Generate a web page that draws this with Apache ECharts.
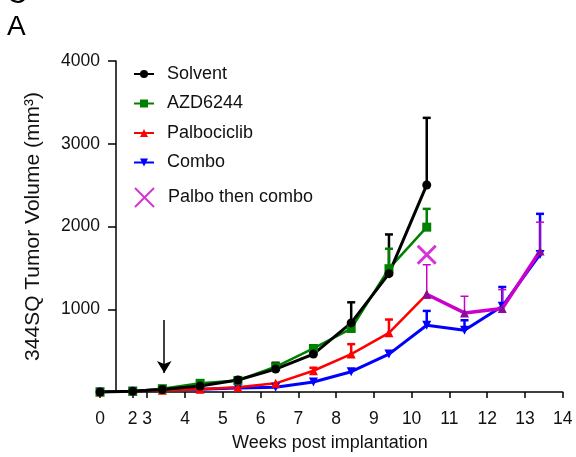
<!DOCTYPE html>
<html>
<head>
<meta charset="utf-8">
<script src="https://cdn.jsdelivr.net/npm/echarts@6/dist/echarts.min.js"></script>
<style>
  html, body { margin: 0; padding: 0; background: #fff; }
  #chart { width: 576px; height: 457px; }
</style>
</head>
<body>
<div id="chart"></div>
<script>
// weeks post implantation (x) for each measurement
const weeks = [0, 2, 3.4, 4.4, 5.4, 6.4, 7.4, 8.4, 9.4, 10.4, 11.4, 12.4, 13.4];
const tickWeeks = [0, 2, 3, 4, 5, 6, 7, 8, 9, 10, 11, 12, 13, 14];

// tumor volume (mm3), mean
const solvent = [0, 10, 30, 72, 145, 277, 458, 835, 1430, 2502];
const azd6244 = [0, 10, 40, 105, 140, 305, 526, 767, 1490, 1992];
const palbociclib = [0, 10, 20, 32, 57, 105, 257, 458, 715, 1181];
const combo = [0, 10, 30, 32, 48, 57, 120, 245, 458, 807, 747, 1036, 1663];
// palbo then combo: starts where palbociclib stops
const palboThenComboWeeks = [10.4, 11.4, 12.4, 13.4];
const palboThenCombo = [1181, 956, 1008, 1703];
const palboThenComboMark = [[10.4, 1659]];

// upper error (mm3)
const solventErr = [0, 0, 0, 0, 0, 76, 0, 249, 474, 811];
const azdErr = [0, 0, 0, 0, 0, 0, 0, 0, 241, 221];
const palboErr = [0, 0, 0, 0, 0, 0, 36, 120, 161, 0];
const comboErr = [0, 0, 0, 0, 0, 0, 0, 0, 0, 173, 120, 233, 490];
const palboThenComboErr = [357, 201, 229, 349];

// treatment start (arrow), weeks / mm3
const arrowWeek = 3.45;
const arrowFrom = 870;
const arrowTo = 230;

// the x axis is broken between 0 and 3 weeks
const knotW = [0, 2, 3, 14];
const knotP = [0, 0.866, 1.25, 12.25];
function toPos(w) {
  for (let i = 1; i < knotW.length; i++) {
    if (w <= knotW[i]) {
      let t = (w - knotW[i - 1]) / (knotW[i] - knotW[i - 1]);
      return knotP[i - 1] + t * (knotP[i] - knotP[i - 1]);
    }
  }
  return knotP[knotP.length - 1];
}
function fromPos(p) {
  for (let i = 1; i < knotP.length; i++) {
    if (p <= knotP[i] + 1e-6) {
      let t = (p - knotP[i - 1]) / (knotP[i] - knotP[i - 1]);
      return knotW[i - 1] + t * (knotW[i] - knotW[i - 1]);
    }
  }
  return knotW[knotW.length - 1];
}

function pts(xs, ys) {
  return ys.map((v, i) => [toPos(xs[i]), v]);
}
function errPts(xs, ys, errs) {
  let out = [];
  ys.forEach((v, i) => {
    if (errs[i] > 0) out.push([toPos(xs[i]), v, v + errs[i]]);
  });
  return out;
}

// upper error bars only
function errSeries(data, color, width, capW) {
  return {
    type: 'custom',
    silent: true,
    z: 3,
    encode: { x: 0, y: 1 },
    data: data,
    renderItem: function (params, api) {
      let p0 = api.coord([api.value(0), api.value(1)]);
      let p1 = api.coord([api.value(0), api.value(2)]);
      return {
        type: 'group',
        children: [
          { type: 'line', shape: { x1: p0[0], y1: p0[1], x2: p1[0], y2: p1[1] },
            style: { stroke: color, lineWidth: width } },
          { type: 'line', shape: { x1: p1[0] - capW / 2, y1: p1[1], x2: p1[0] + capW / 2, y2: p1[1] },
            style: { stroke: color, lineWidth: width } }
        ]
      };
    }
  };
}

function lineSeries(name, data, color, symbol, width, extra) {
  return Object.assign({
    name: name,
    type: 'line',
    data: data,
    symbol: symbol,
    symbolSize: 9,
    z: 4,
    lineStyle: { color: color, width: width },
    itemStyle: { color: color },
    emphasis: { disabled: true }
  }, extra || {});
}

const fontFamily = '"Liberation Sans", Arial, sans-serif';
const xCross = 'path://M0,0L10,10M10,0L0,10';

let myChart = echarts.init(document.getElementById('chart'));
let option = {
  animation: false,
  textStyle: { fontFamily: fontFamily },
  graphic: [
    { type: 'text', left: 7, top: -19, style: { text: 'C', fontSize: 28, fontFamily: fontFamily, fill: '#000' } },
    { type: 'text', left: 7, top: 13, style: { text: 'A', fontSize: 28, fontFamily: fontFamily, fill: '#000' } }
  ],
  grid: { left: 97, right: 13.3, top: 61, bottom: 65, containLabel: false },
  legend: [{
    orient: 'vertical',
    left: 128,
    top: 60,
    itemGap: 11.5,
    itemWidth: 20,
    itemHeight: 10,
    data: ['Solvent', 'AZD6244', 'Palbociclib', 'Combo'],
    textStyle: { fontSize: 18, color: '#111', fontFamily: fontFamily, padding: [0, 0, 0, 8] }
  }, {
    left: 129,
    top: 182,
    itemWidth: 19,
    itemHeight: 19,
    data: ['Palbo then combo'],
    textStyle: { fontSize: 18, color: '#111', fontFamily: fontFamily, padding: [0, 0, 0, 9] }
  }],
  xAxis: {
    type: 'value',
    min: -0.08,
    max: toPos(14),
    name: 'Weeks post implantation',
    nameLocation: 'middle',
    nameGap: 42,
    nameTextStyle: { fontSize: 18, color: '#111' },
    axisLine: { onZero: false, lineStyle: { color: '#000', width: 1.5 } },
    axisTick: { length: 6, lineStyle: { color: '#000', width: 1.5 }, customValues: tickWeeks.map(toPos) },
    axisLabel: {
      fontSize: 17.5, color: '#111', margin: 18,
      customValues: tickWeeks.map(toPos),
      formatter: v => String(Math.round(fromPos(v)))
    },
    splitLine: { show: false }
  },
  yAxis: {
    type: 'value',
    min: 0,
    max: 4000,
    interval: 1000,
    offset: -19,
    name: '344SQ Tumor Volume (mm³)',
    nameLocation: 'middle',
    nameGap: 72,
    nameTextStyle: { fontSize: 21, color: '#111' },
    axisLine: { show: true, onZero: false, lineStyle: { color: '#000', width: 1.5 } },
    axisTick: { show: true, length: 8, lineStyle: { color: '#000', width: 1.5 } },
    axisLabel: { fontSize: 17.5, color: '#111', margin: 16, formatter: v => v === 0 ? '' : String(v) },
    splitLine: { show: false }
  },
  series: [
    errSeries(errPts(weeks, solvent, solventErr), '#000', 2.5, 8),
    errSeries(errPts(weeks, azd6244, azdErr), '#008000', 2.5, 8),
    errSeries(errPts(weeks, palbociclib, palboErr), '#ff0000', 2.5, 8),
    errSeries(errPts(weeks, combo, comboErr), '#0000ff', 2.5, 8),
    errSeries(errPts(palboThenComboWeeks, palboThenCombo, palboThenComboErr), '#cc00cc', 1.5, 8),
    lineSeries('Combo', pts(weeks, combo), '#0000ff', 'triangle', 3, { symbolRotate: 180 }),
    lineSeries('Palbociclib', pts(weeks, palbociclib), '#ff0000', 'triangle', 2.5),
    lineSeries('AZD6244', pts(weeks, azd6244), '#008000', 'rect', 2.5),
    lineSeries('Solvent', pts(weeks, solvent), '#000000', 'circle', 3, {
      markLine: {
        silent: true,
        symbol: ['none', 'arrow'],
        symbolSize: [11, 12],
        label: { show: false },
        lineStyle: { color: '#000', width: 1.5, type: 'solid' },
        data: [[{ coord: [toPos(arrowWeek), arrowFrom] }, { coord: [toPos(arrowWeek), arrowTo] }]]
      }
    }),
    lineSeries('palbo-combo-line', pts(palboThenComboWeeks, palboThenCombo), '#cc00cc', 'triangle', 3.5,
      { itemStyle: { color: '#8a0a9a' }, z: 5 }),
    {
      name: 'Palbo then combo',
      type: 'scatter',
      data: palboThenComboMark.map(d => [toPos(d[0]), d[1]]),
      symbol: xCross,
      symbolSize: 18,
      z: 5,
      itemStyle: { color: '#cc00cc', borderColor: '#cc00cc', borderWidth: 3 },
      emphasis: { disabled: true }
    }
  ]
};
myChart.setOption(option);
</script>
</body>
</html>
